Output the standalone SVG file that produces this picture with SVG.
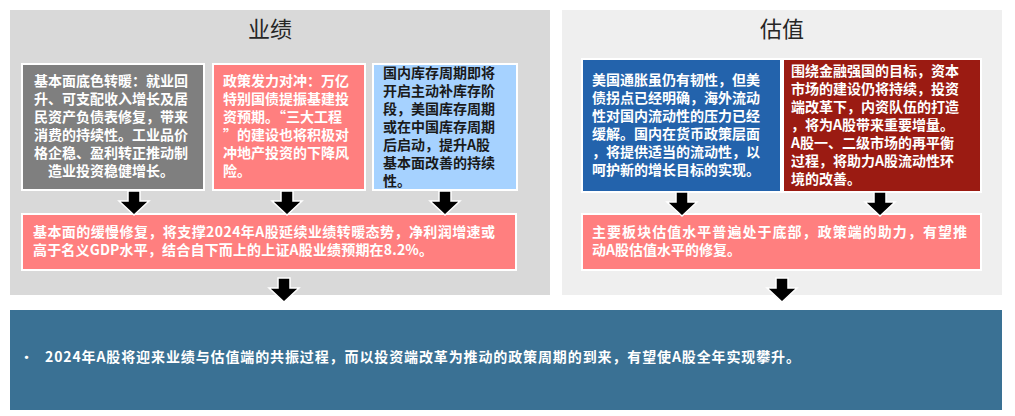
<svg xmlns="http://www.w3.org/2000/svg" width="1015" height="416" viewBox="0 0 1015 416">
<defs>
<path id="arr" d="M-6,0 H6 V10 H15 L0,24 L-15,10 H-6 Z" fill="#000" stroke="#fff" stroke-width="1.5"/>
</defs>
<style>
text{font-family:"Noto Sans CJK SC","Noto Sans",sans-serif;font-weight:bold;font-size:14px;fill:#fff}
.dk{fill:#1a1a1a}
.ttl{font-size:22px;fill:#262626;font-weight:normal}
.box{stroke:#fff;stroke-width:2}
</style>
<rect width="1015" height="416" fill="#fff"/>
<g id="panel-left"><rect x="10" y="10" width="540" height="285" fill="#d9d9d9"/><text class="ttl" x="270" y="37" text-anchor="middle">业绩</text></g>
<g id="panel-right"><rect x="562" y="10" width="440" height="285" fill="#efefef"/><text class="ttl" x="782" y="37" text-anchor="middle">估值</text></g>
<g id="n1"><rect class="box" x="22" y="64" width="182" height="126" fill="#7f7f7f"/>
<text x="34" y="86">基本面底色转暖：就业回</text><text x="34" y="104">升、可支配收入增长及居</text><text x="34" y="122">民资产负债表修复，带来</text><text x="34" y="140">消费的持续性。工业品价</text><text x="34" y="158">格企稳、盈利转正推动制</text><text x="48" y="176">造业投资稳健增长。</text></g>
<g id="n2"><rect class="box" x="213" y="64" width="152" height="126" fill="#ff7f7f"/>
<text x="223" y="86">政策发力对冲：万亿</text><text x="223" y="104">特别国债提振基建投</text><text x="223" y="122">资预期。“三大工程</text><text x="223" y="140">”的建设也将积极对</text><text x="223" y="158">冲地产投资的下降风</text><text x="223" y="176">险。</text></g>
<g id="n3"><rect class="box" x="373" y="64" width="144" height="126" fill="#a6d2ff"/>
<text class="dk" x="383" y="78">国内库存周期即将</text><text class="dk" x="383" y="96">开启主动补库存阶</text><text class="dk" x="383" y="114">段，美国库存周期</text><text class="dk" x="383" y="132">或在中国库存周期</text><text class="dk" x="383" y="150">后启动，提升A股</text><text class="dk" x="383" y="168">基本面改善的持续</text><text class="dk" x="383" y="186">性。</text></g>
<g id="n4"><rect class="box" x="22" y="214" width="494" height="56" fill="#ff7f7f"/>
<text x="33" y="237" textLength="462">基本面的缓慢修复，将支撑2024年A股延续业绩转暖态势，净利润增速或</text><text x="33" y="255" textLength="400">高于名义GDP水平，结合自下而上的上证A股业绩预期在8.2%。</text></g>
<g id="n5"><rect class="box" x="582" y="59" width="199" height="133" fill="#2363ac"/>
<text x="592" y="85">美国通胀虽仍有韧性，但美</text><text x="592" y="103">债拐点已经明确，海外流动</text><text x="592" y="121">性对国内流动性的压力已经</text><text x="592" y="139">缓解。国内在货币政策层面</text><text x="592" y="157">，将提供适当的流动性，以</text><text x="592" y="175">呵护新的增长目标的实现。</text></g>
<g id="n6"><rect class="box" x="783" y="59" width="198" height="133" fill="#9b1b12"/>
<text x="791" y="76">围绕金融强国的目标，资本</text><text x="791" y="94">市场的建设仍将持续，投资</text><text x="791" y="112">端改革下，内资队伍的打造</text><text x="791" y="130">，将为A股带来重要增量。</text><text x="791" y="148">A股一、二级市场的再平衡</text><text x="791" y="166">过程，将助力A股流动性环</text><text x="791" y="184">境的改善。</text></g>
<g id="n7"><rect class="box" x="582" y="214" width="399" height="56" fill="#ff7f7f"/>
<text x="592" y="237" textLength="375">主要板块估值水平普遍处于底部，政策端的助力，有望推</text><text x="592" y="255">动A股估值水平的修复。</text></g>
<g id="n8"><rect x="10" y="310" width="992" height="100" fill="#3a7194"/>
<text x="20" y="362" style="font-size:13px">•</text><text x="45" y="362" style="font-size:14px" textLength="755">2024年A股将迎来业绩与估值端的共振过程，而以投资端改革为推动的政策周期的到来，有望使A股全年实现攀升。</text></g>
<g id="connectors">
<use href="#arr" x="134" y="191"/><use href="#arr" x="287" y="191"/><use href="#arr" x="445" y="191"/>
<use href="#arr" x="682" y="192"/><use href="#arr" x="880" y="192"/>
<use href="#arr" x="284" y="278"/><use href="#arr" x="782" y="278"/>
</g>
</svg>
